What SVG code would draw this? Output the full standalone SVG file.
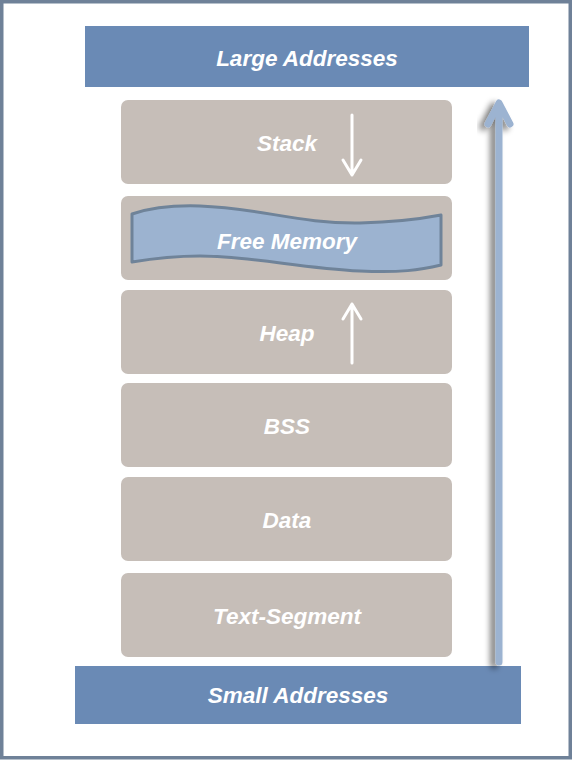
<svg xmlns="http://www.w3.org/2000/svg" width="572" height="760" viewBox="0 0 572 760">
<style>
.band{fill:#6a8ab5;}
.layer{fill:#c6beb8;}
.lbl{font-family:"Liberation Sans",Arial,sans-serif;font-weight:bold;font-style:italic;fill:#ffffff;text-anchor:middle;font-size:22.5px;}
.wa{stroke:#ffffff;stroke-width:3;fill:none;stroke-linecap:round;stroke-linejoin:round;}
</style>
<defs>
<filter id="sh" x="-50%" y="-10%" width="200%" height="120%">
<feGaussianBlur in="SourceAlpha" stdDeviation="3"/>
<feOffset dx="-5" dy="3" result="b"/>
<feComponentTransfer><feFuncA type="linear" slope="0.55"/></feComponentTransfer>
<feMerge><feMergeNode/><feMergeNode in="SourceGraphic"/></feMerge>
</filter>
</defs>
<rect x="1.75" y="1.75" width="568.5" height="756" fill="#ffffff" stroke="#6f8198" stroke-width="3.5"/>
<g id="large"><rect class="band" x="85" y="26" width="444" height="61"/><text class="lbl" x="307" y="66">Large Addresses</text></g>
<g id="stack"><rect class="layer" x="121" y="100" width="331" height="84" rx="7"/><text class="lbl" x="287" y="151">Stack</text></g>
<g id="free"><rect class="layer" x="121" y="196" width="331" height="84" rx="7"/>
<path d="M132,214 C150,208 170,205 200,206 C260,208 300,224 360,223 C400,222 420,219 441,215 L441,265 C420,270 400,273 360,271 C300,268 250,256 200,256 C170,256 150,259 132,262 Z" fill="#9cb3d0" stroke="#6f8399" stroke-width="3" stroke-linejoin="round"/>
<text class="lbl" x="287" y="249">Free Memory</text></g>
<g id="heap"><rect class="layer" x="121" y="290" width="331" height="84" rx="7"/><text class="lbl" x="287" y="341">Heap</text></g>
<g id="bss"><rect class="layer" x="121" y="383" width="331" height="84" rx="7"/><text class="lbl" x="287" y="434">BSS</text></g>
<g id="data"><rect class="layer" x="121" y="477" width="331" height="84" rx="7"/><text class="lbl" x="287" y="528">Data</text></g>
<g id="text"><rect class="layer" x="121" y="573" width="331" height="84" rx="7"/><text class="lbl" x="287" y="624">Text-Segment</text></g>
<g id="small"><rect class="band" x="75" y="666" width="446" height="58"/><text class="lbl" x="298" y="703">Small Addresses</text></g>
<g id="connectors">
<path class="wa" d="M352,115 V175 M343,160 L352,175 L361,160"/>
<path class="wa" d="M352,363 V304 M343,319 L352,304 L361,319"/>
<g filter="url(#sh)">
<path d="M499,662 V104 M488,124 L499,103 L510,124" stroke="#9cb3d1" stroke-width="7" fill="none" stroke-linecap="round" stroke-linejoin="round"/>
</g>
</g>
</svg>
